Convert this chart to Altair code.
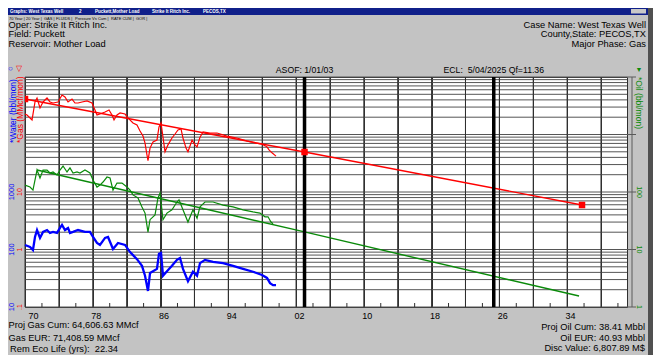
import altair as alt
import pandas as pd

FONT = "Liberation Sans"

# ---------------- data ----------------
gas_year = [1970.00, 1970.24, 1970.83, 1971.18, 1971.42, 1971.77, 1972.13, 1972.60, 1972.95, 1973.31,
            1973.90, 1974.37, 1974.72, 1975.08, 1975.55, 1975.90, 1976.26, 1976.73, 1977.32, 1977.91,
            1978.26, 1978.50, 1978.85, 1979.45, 1979.92, 1980.27, 1980.51, 1980.86, 1981.22, 1981.81,
            1982.16, 1982.75, 1983.22, 1983.58, 1983.93, 1984.17, 1984.40, 1984.52, 1984.76, 1985.11,
            1985.58, 1985.82, 1986.06, 1986.29, 1986.53, 1986.88, 1987.35, 1987.71, 1988.06, 1988.42,
            1988.65, 1989.01, 1989.24, 1989.48, 1989.72, 1990.07, 1990.31, 1990.66, 1991.02, 1991.84,
            1992.67, 1993.85, 1995.03, 1996.21, 1997.27, 1997.98, 1998.57, 1998.81, 1999.16, 1999.63]
gas_rate = [227, 218, 179, 368, 431, 289, 368, 431, 368, 353,
            368, 486, 449, 368, 414, 353, 353, 368, 383, 353,
            267, 218, 227, 246, 267, 218, 179, 218, 237, 227,
            194, 159, 146, 115, 94, 71, 44, 35, 58, 74,
            80, 135, 159, 90, 50, 66, 87, 102, 120, 125,
            87, 58, 50, 63, 80, 66, 61, 90, 111, 106,
            106, 94, 87, 77, 71, 68, 61, 54, 48, 42]

oil_year = [1970.00, 1970.59, 1970.94, 1971.42, 1971.77, 1972.13, 1972.60, 1972.95, 1973.31, 1973.78,
            1974.13, 1974.49, 1974.96, 1975.31, 1975.67, 1976.14, 1976.49, 1977.08, 1977.67, 1978.03,
            1978.50, 1978.85, 1979.21, 1979.68, 1980.04, 1980.39, 1980.86, 1981.45, 1982.04, 1982.40,
            1982.75, 1983.34, 1983.81, 1984.17, 1984.52, 1984.76, 1985.35, 1985.70, 1985.94, 1986.29,
            1986.76, 1987.35, 1987.94, 1988.18, 1988.65, 1989.24, 1989.83, 1990.31, 1990.66, 1991.25,
            1992.20, 1993.38, 1994.56, 1995.74, 1996.92, 1997.74, 1998.33, 1998.69, 1999.04, 1999.28]
oil_rate = [132, 122, 108, 241, 175, 241, 241, 214, 223, 198,
            241, 283, 223, 262, 214, 223, 214, 241, 214, 162,
            122, 132, 149, 182, 175, 108, 143, 143, 122, 108,
            89, 79, 55, 43, 20, 33, 40, 79, 96, 33,
            43, 49, 67, 73, 49, 30, 49, 35, 55, 67,
            67, 59, 55, 49, 45, 43, 37, 37, 30, 28]

water_year = [1970.00, 1970.59, 1970.94, 1971.18, 1971.42, 1971.77, 1972.13, 1972.60, 1972.95, 1973.31,
              1973.78, 1974.13, 1974.37, 1974.72, 1975.08, 1975.31, 1975.67, 1976.26, 1977.08, 1977.67,
              1978.03, 1978.50, 1978.85, 1979.45, 1979.80, 1980.39, 1980.98, 1981.81, 1982.40, 1983.22,
              1983.81, 1984.17, 1984.52, 1984.76, 1985.11, 1985.58, 1985.82, 1986.06, 1986.29, 1986.76,
              1987.35, 1987.94, 1988.30, 1988.65, 1989.24, 1989.83, 1990.31, 1990.66, 1991.25, 1992.20,
              1993.38, 1994.56, 1995.74, 1996.92, 1997.98, 1998.57, 1998.93, 1999.28, 1999.63]
water_rate = [120, 111, 98, 165, 218, 159, 202, 218, 194, 202,
              194, 237, 267, 218, 237, 194, 202, 218, 202, 202,
              165, 130, 120, 159, 165, 102, 130, 120, 90, 68,
              52, 35, 19, 39, 42, 46, 84, 87, 35, 42,
              52, 66, 71, 46, 28, 41, 35, 58, 66, 61,
              58, 52, 46, 41, 36, 32, 26, 24, 24]

gas_fc_year = [1970.0, 2003.0, 2035.76]
gas_fc_rate = [414, 49.6, 5.94]
oil_fc_year = [1971.42, 2003.0, 2035.41]
oil_fc_rate = [241, 20.2, 1.55]

asof_year = [2003.0]
ecl_year = [2025.34]

x_grid_years = list(range(1970, 2041, 4))
x_minor_years = list(range(1972, 2041, 4))
y_grid = [m * 10 ** k for k in range(4) for m in range(1, 10)] + [10000]
oil_decades = [1, 10, 100, 1000, 10000]

water_ticks = [10, 100, 1000]
water_tick_labels = ["10", "100", "1000"]
gas_ticks = [0.1, 1, 10]
gas_tick_labels = [".1", "1", "10"]
oil_ticks = [1, 10, 100]
oil_tick_labels = ["1", "10", "100"]

title_bar = ["Graphs: West Texas Well", "2", "Puckett,Mother Load", "Strike It Ritch Inc.", "PECOS,TX"]
tabs = ["70 Year |", "20 Year |", "GAS |", "FLUIDS |", "Pressure Vs Cum |", "RATE CUM |", "GOR |"]
head_left = ["Oper: Strike It Ritch Inc.", "Field: Puckett", "Reservoir: Mother Load"]
head_right = ["Case Name: West Texas Well", "County,State: PECOS,TX", "Major Phase: Gas"]
foot_left = ["Proj Gas Cum: 64,606.63 MMcf", "Gas EUR: 71,408.59 MMcf", "Rem Eco Life (yrs):\u00a0\u00a022.34"]
foot_right = ["Proj Oil Cum: 38.41 Mbbl", "Oil EUR: 40.93 Mbbl", "Disc Value: 6,807.89 M$"]
asof_text = "ASOF: 1/01/03"
ecl_text = "ECL:\u00a0\u00a05/04/2025 Qf=11.36"

# ---------------- chart ----------------
W, H = 602, 230
RED, GREEN, BLUE = "#ff0000", "#0a8a0a", "#0000ff"

xs = alt.Scale(domain=[1970, 2041.07], nice=False, zero=False)
gas_s = alt.Scale(type="log", domain=[0.1, 1000], nice=False)
oil_s = alt.Scale(type="log", domain=[1, 10000], nice=False)
water_s = alt.Scale(type="log", domain=[10, 100000], nice=False)

x_axis = alt.Axis(values=x_grid_years, grid=True, gridColor="#303030", gridWidth=1,
                  ticks=False, domain=False, title=None, labelFont=FONT, labelFontSize=9,
                  labelColor="black", labelPadding=4, labelOffset=3, labelOverlap=False,
                  labelExpr="(datum.value - 1970) % 8 == 0 ? slice(toString(datum.value), 2) : ''")


def X():
    return alt.X("year:Q", scale=xs, axis=x_axis)


one = pd.DataFrame({"a": [0]})


def txt(text, x, y, size=9.3, color="black", align="left", angle=0, weight="normal", baseline="middle"):
    return alt.Chart(one).mark_text(text=text, align=align, baseline=baseline, fontSize=size,
                                    color=color, angle=angle, fontWeight=weight, font=FONT).encode(
        x=alt.value(x), y=alt.value(y))


def box(x, x2, y, y2, color):
    return alt.Chart(one).mark_rect(color=color).encode(
        x=alt.value(x), x2=alt.value(x2), y=alt.value(y), y2=alt.value(y2))


layers = []

# horizontal log grid
layers.append(alt.Chart(pd.DataFrame({"v": y_grid})).mark_rule(color="#555555", strokeWidth=1).encode(
    y=alt.Y("v:Q", scale=oil_s, axis=None)))
# vertical grid + x labels
layers.append(alt.Chart(pd.DataFrame({"year": x_grid_years})).mark_rule(color="#303030", strokeWidth=1).encode(
    x=X()))
# minor ticks at bottom
layers.append(alt.Chart(pd.DataFrame({"year": x_minor_years})).mark_rule(color="#303030").encode(
    x=X(), y=alt.value(H - 4), y2=alt.value(H)))

# right axis
layers.append(alt.Chart(one).mark_rule(color="#5a5a5a").encode(
    x=alt.value(W + 5), y=alt.value(0), y2=alt.value(H)))
layers.append(alt.Chart(pd.DataFrame({"v": oil_decades})).mark_rule(color="#5a5a5a").encode(
    y=alt.Y("v:Q", scale=oil_s, axis=None), x=alt.value(W), x2=alt.value(W + 9)))

# data series
gas_df = pd.DataFrame({"year": gas_year, "v": gas_rate})
oil_df = pd.DataFrame({"year": oil_year, "v": oil_rate})
water_df = pd.DataFrame({"year": water_year, "v": water_rate})
layers.append(alt.Chart(water_df).mark_line(color=BLUE, strokeWidth=2.3).encode(
    x=X(), y=alt.Y("v:Q", scale=water_s, axis=None)))
layers.append(alt.Chart(oil_df).mark_line(color=GREEN, strokeWidth=1.2).encode(
    x=X(), y=alt.Y("v:Q", scale=oil_s, axis=None)))
layers.append(alt.Chart(gas_df).mark_line(color=RED, strokeWidth=1.2).encode(
    x=X(), y=alt.Y("v:Q", scale=gas_s, axis=None)))

# forecasts
gfc = pd.DataFrame({"year": gas_fc_year, "v": gas_fc_rate})
ofc = pd.DataFrame({"year": oil_fc_year, "v": oil_fc_rate})
layers.append(alt.Chart(ofc).mark_line(color=GREEN, strokeWidth=1.4).encode(
    x=X(), y=alt.Y("v:Q", scale=oil_s, axis=None)))
layers.append(alt.Chart(gfc).mark_line(color=RED, strokeWidth=1.4).encode(
    x=X(), y=alt.Y("v:Q", scale=gas_s, axis=None)))

# ASOF / ECL lines
layers.append(alt.Chart(pd.DataFrame({"year": asof_year + ecl_year})).mark_rule(color="black", strokeWidth=3.5).encode(
    x=X()))

# markers
layers.append(alt.Chart(gfc.iloc[1:]).mark_square(color=RED, size=42, opacity=1, filled=True).encode(
    x=X(), y=alt.Y("v:Q", scale=gas_s, axis=None)))
layers.append(alt.Chart(gfc.iloc[:1]).mark_square(color=RED, size=42, opacity=1, filled=True, clip=True).encode(
    x=X(), y=alt.Y("v:Q", scale=gas_s, axis=None)))

# ASOF / ECL labels
layers.append(alt.Chart(pd.DataFrame({"year": asof_year})).mark_text(
    text=asof_text, fontSize=8.7, font=FONT, color="black", align="center", baseline="middle").encode(
    x=X(), y=alt.value(-7.5)))
layers.append(alt.Chart(pd.DataFrame({"year": ecl_year})).mark_text(
    text=ecl_text, fontSize=8.7, font=FONT, color="black", align="center", baseline="middle").encode(
    x=X(), y=alt.value(-7.5)))

# left axis labels
layers.append(alt.Chart(pd.DataFrame({"v": water_ticks, "lab": water_tick_labels})).mark_text(
    color=BLUE, angle=270, fontSize=7.5, font=FONT, align="center", baseline="middle").encode(
    y=alt.Y("v:Q", scale=water_s, axis=None), x=alt.value(-13), text="lab:N"))
layers.append(alt.Chart(pd.DataFrame({"v": gas_ticks, "lab": gas_tick_labels})).mark_text(
    color=RED, angle=270, fontSize=7, font=FONT, align="center", baseline="middle").encode(
    y=alt.Y("v:Q", scale=gas_s, axis=None), x=alt.value(-5), text="lab:N"))
# right axis labels
layers.append(alt.Chart(pd.DataFrame({"v": oil_ticks, "lab": oil_tick_labels})).mark_text(
    color=GREEN, angle=90, fontSize=7, font=FONT, align="center", baseline="middle").encode(
    y=alt.Y("v:Q", scale=oil_s, axis=None), x=alt.value(W + 12), text="lab:N"))

# axis titles and symbols
layers.append(txt("*Water (bbl/mon)", -12.5, 66, size=8.5, color=BLUE, angle=270))
layers.append(txt("*Gas (MMcf/mon)", -5, 66, size=8.5, color=RED, angle=270))
layers.append(txt("\u25cb", -14.5, -8, size=8, color=BLUE, align="center"))
layers.append(txt("\u25bd", -6.5, -8, size=8, color=RED, align="center"))
layers.append(txt("\u25bc", W + 12, -7, size=7, color=GREEN, align="center"))
layers.append(txt("*Oil (bbl/mon)", W + 12, 0, size=8.5, color=GREEN, angle=90))

# window chrome
layers.append(box(-17, 623, -69, -62, "#10208a"))
layers.append(box(606, 621, -68, -63.5, "#c8c8c8"))
layers.append(box(623, 628, -69, 278, "#505050"))
for s, xx in zip(title_bar, [-15, 54, 70, 127, 178]):
    layers.append(txt(s, xx, -65.5, size=4.5, color="white", weight="bold"))
for s, xx in zip(tabs, [-16, 1, 19, 31, 50, 86, 111]):
    layers.append(txt(s, xx, -58.5, size=4, color="black"))

# header / footer texts
for s, yy in zip(head_left, [-52.5, -43, -33]):
    layers.append(txt(s, -16.5, yy))
for s, yy in zip(head_right, [-52.5, -43, -33]):
    layers.append(txt(s, 621, yy, align="right"))
for s, yy, xx in zip(foot_left, [248, 261, 272], [-16.5, -16.5, -15]):
    layers.append(txt(s, xx, yy))
for s, yy in zip(foot_right, [250, 261, 271]):
    layers.append(txt(s, 620, yy, align="right"))

chart = alt.layer(*layers).resolve_scale(y="independent").properties(
    width=W, height=H,
    padding={"left": 17, "top": 69, "right": 26, "bottom": 48},
    autosize=alt.AutoSizeParams(type="none"),
    background="#c3c3c3",
).configure_view(fill="white", stroke="#303030", strokeWidth=1)

chart.save("out.html", embed_options={"renderer": "svg", "actions": False})
